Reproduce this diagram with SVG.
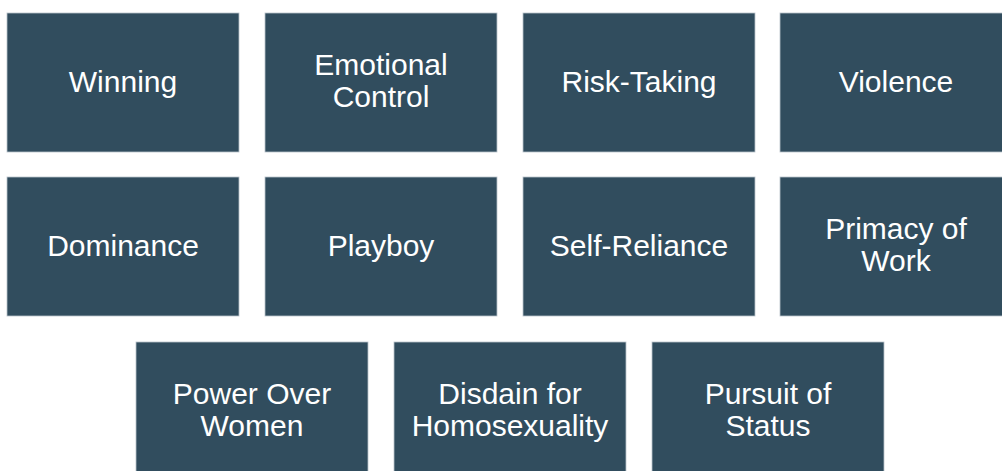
<svg xmlns="http://www.w3.org/2000/svg" width="1002" height="471" viewBox="0 0 1002 471">
<style>
.box{fill:#314D5E;stroke:#B9C3CA;stroke-width:0.8}
.t{fill:#FFFFFF;font-family:"Liberation Sans",Arial,sans-serif;font-size:30px;text-anchor:middle}
</style>
<rect width="1002" height="471" fill="#FFFFFF"/>
<g id="n-winning"><rect class="box" x="7" y="13" width="232" height="139"/><text class="t" x="123" y="91.5">Winning</text></g>
<g id="n-emotional"><rect class="box" x="265" y="13" width="232" height="139"/><text class="t" x="381" y="75">Emotional</text><text class="t" x="381" y="106.5">Control</text></g>
<g id="n-risk"><rect class="box" x="523" y="13" width="232" height="139"/><text class="t" x="639" y="91.5">Risk-Taking</text></g>
<g id="n-violence"><rect class="box" x="780" y="13" width="232" height="139"/><text class="t" x="896" y="91.5">Violence</text></g>
<g id="n-dominance"><rect class="box" x="7" y="177" width="232" height="139"/><text class="t" x="123" y="255.5">Dominance</text></g>
<g id="n-playboy"><rect class="box" x="265" y="177" width="232" height="139"/><text class="t" x="381" y="255.5">Playboy</text></g>
<g id="n-selfreliance"><rect class="box" x="523" y="177" width="232" height="139"/><text class="t" x="639" y="255.5">Self-Reliance</text></g>
<g id="n-primacy"><rect class="box" x="780" y="177" width="232" height="139"/><text class="t" x="896" y="239">Primacy of</text><text class="t" x="896" y="270.5">Work</text></g>
<g id="n-power"><rect class="box" x="136" y="342" width="232" height="139"/><text class="t" x="252" y="404">Power Over</text><text class="t" x="252" y="435.5">Women</text></g>
<g id="n-disdain"><rect class="box" x="394" y="342" width="232" height="139"/><text class="t" x="510" y="404">Disdain for</text><text class="t" x="510" y="435.5">Homosexuality</text></g>
<g id="n-status"><rect class="box" x="652" y="342" width="232" height="139"/><text class="t" x="768" y="404">Pursuit of</text><text class="t" x="768" y="435.5">Status</text></g>
<g id="connectors"></g>
</svg>
